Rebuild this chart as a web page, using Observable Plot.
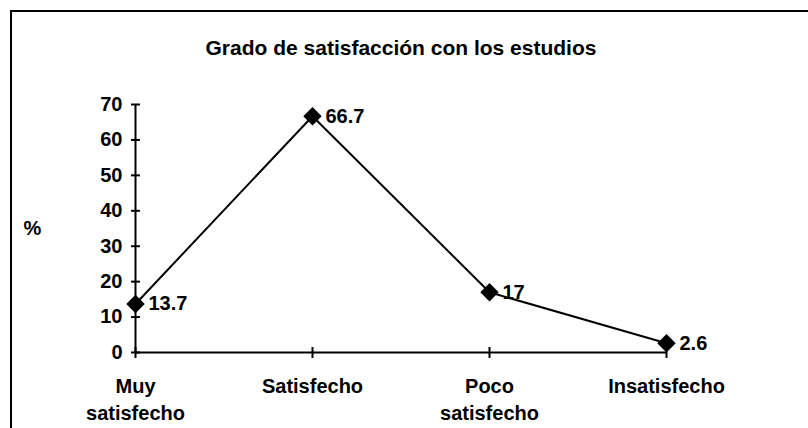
<!DOCTYPE html>
<html>
<head>
<meta charset="utf-8">
<script src="https://cdn.jsdelivr.net/npm/d3@7"></script>
<script src="https://cdn.jsdelivr.net/npm/@observablehq/plot@0.6"></script>
<style>
  html, body { margin: 0; padding: 0; background: #fff; overflow: hidden; width: 808px; height: 428px; }
  #frame { position: absolute; left: 10px; top: 10px; width: 1000px; height: 1000px;
           border-left: 2.5px solid #000; border-top: 2.5px solid #000; box-sizing: border-box; }
  #chart { position: absolute; left: 0; top: 0; }
</style>
</head>
<body>
<div id="frame"></div>
<div id="chart"></div>
<script>
const title = "Grado de satisfacción con los estudios";
const yLabel = "%";
const categories = ["Muy satisfecho", "Satisfecho", "Poco satisfecho", "Insatisfecho"];
const tickLabels = ["Muy\nsatisfecho", "Satisfecho", "Poco\nsatisfecho", "Insatisfecho"];
const values = [13.7, 66.7, 17, 2.6];
const yTicks = [0, 10, 20, 30, 40, 50, 60, 70];

const data = categories.map((c, i) => ({cat: c, val: values[i]}));
const font = "'Liberation Sans', Arial, sans-serif";

const hTick = {draw(ctx) { ctx.moveTo(-4.5, 0); ctx.lineTo(4.5, 0); }};
const vTick = {draw(ctx) { ctx.moveTo(0, -5.5); ctx.lineTo(0, 5.5); }};

const chart = Plot.plot({
  width: 808,
  height: 428,
  marginLeft: 135,
  marginRight: 142,
  marginTop: 104,
  marginBottom: 76,
  style: {fontFamily: font, fontSize: "20px", fontWeight: "bold", color: "#000", background: "transparent", overflow: "visible"},
  x: {type: "point", domain: categories, padding: 0},
  y: {domain: [0, 70]},
  marks: [
    Plot.axisY(yTicks, {tickSize: 0, tickPadding: 13, label: null, fontSize: 20, fontWeight: "bold", fill: "#000"}),
    Plot.axisX(categories, {tickSize: 0, tickPadding: 22, label: null, lineHeight: 1.33,
      tickFormat: (d) => tickLabels[categories.indexOf(d)], fontSize: 20, fontWeight: "bold", fill: "#000"}),
    Plot.ruleX([categories[0]], {x: (d) => d, y1: () => 0, y2: () => 70, stroke: "#000", strokeWidth: 2}),
    Plot.ruleY([0], {y: (d) => d, x1: () => categories[0], x2: () => categories[categories.length - 1], stroke: "#000", strokeWidth: 2}),
    Plot.dot(yTicks, {x: () => categories[0], y: (d) => d, symbol: hTick, fill: "none", stroke: "#000", strokeWidth: 2}),
    Plot.dot(categories, {x: (d) => d, y: () => 0, symbol: vTick, fill: "none", stroke: "#000", strokeWidth: 2}),
    Plot.line(data, {x: "cat", y: "val", stroke: "#000", strokeWidth: 2}),
    Plot.dot(data, {x: "cat", y: "val", symbol: "diamond2", r: 8.3, fill: "#000", stroke: "none"}),
    Plot.text(data, {x: "cat", y: "val", text: (d) => String(d.val), dx: 13, textAnchor: "start",
      fontSize: 20, fontWeight: "bold", fill: "#000"}),
    Plot.text([yLabel], {frameAnchor: "left", text: (d) => d, dx: -112, textAnchor: "start",
      fontSize: 20, fontWeight: "bold", fill: "#000"}),
    Plot.text([title], {frameAnchor: "top", text: (d) => d, dy: -64, lineAnchor: "top",
      fontSize: 21, fontWeight: "bold", fill: "#000"})
  ]
});
document.getElementById("chart").appendChild(chart);
</script>
</body>
</html>
